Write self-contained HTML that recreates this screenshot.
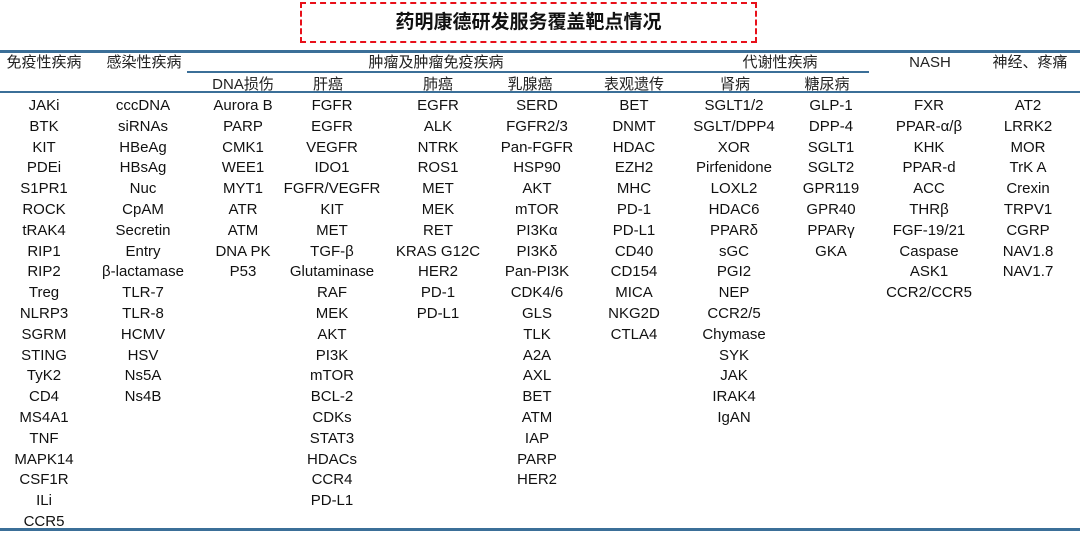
<!DOCTYPE html>
<html><head><meta charset="utf-8"><style>
body{margin:0;width:1080px;height:531px;background:#fff;position:relative;overflow:hidden;font-family:"Liberation Sans","Noto Sans CJK SC",sans-serif;color:#111;}
.t{position:absolute;left:300px;top:2px;width:453px;height:37px;border:2px dashed #e8101a;text-align:center;font-weight:bold;font-size:19px;line-height:37px;}
.l{position:absolute;background:#3b6f98;}
.h{position:absolute;font-size:15px;white-space:nowrap;transform:translateX(-50%);line-height:18px;color:#222;}
.c{position:absolute;top:96px;transform:translateX(-50%);text-align:center;font-size:15px;line-height:20.8px;white-space:nowrap;}
</style></head><body>
<div class="t">药明康德研发服务覆盖靶点情况</div>
<div class="l" style="left:0;top:50px;width:1080px;height:3px"></div>
<div class="l" style="left:187px;top:71px;width:682px;height:1.5px"></div>
<div class="l" style="left:0;top:91px;width:1080px;height:2px"></div>
<div class="l" style="left:0;top:528px;width:1080px;height:3px"></div>
<div class="h" style="left:44px;top:54px">免疫性疾病</div>
<div class="h" style="left:144px;top:54px">感染性疾病</div>
<div class="h" style="left:436px;top:54px">肿瘤及肿瘤免疫疾病</div>
<div class="h" style="left:780px;top:54px">代谢性疾病</div>
<div class="h" style="left:930px;top:54px">NASH</div>
<div class="h" style="left:1030px;top:54px">神经、疼痛</div>
<div class="h" style="left:243px;top:76px">DNA损伤</div>
<div class="h" style="left:328px;top:76px">肝癌</div>
<div class="h" style="left:438px;top:76px">肺癌</div>
<div class="h" style="left:530px;top:76px">乳腺癌</div>
<div class="h" style="left:634px;top:76px">表观遗传</div>
<div class="h" style="left:735px;top:76px">肾病</div>
<div class="h" style="left:827px;top:76px">糖尿病</div>
<div class="c" style="left:44px">JAKi<br>BTK<br>KIT<br>PDEi<br>S1PR1<br>ROCK<br>tRAK4<br>RIP1<br>RIP2<br>Treg<br>NLRP3<br>SGRM<br>STING<br>TyK2<br>CD4<br>MS4A1<br>TNF<br>MAPK14<br>CSF1R<br>ILi<br>CCR5</div>
<div class="c" style="left:143px">cccDNA<br>siRNAs<br>HBeAg<br>HBsAg<br>Nuc<br>CpAM<br>Secretin<br>Entry<br>β-lactamase<br>TLR-7<br>TLR-8<br>HCMV<br>HSV<br>Ns5A<br>Ns4B</div>
<div class="c" style="left:243px">Aurora B<br>PARP<br>CMK1<br>WEE1<br>MYT1<br>ATR<br>ATM<br>DNA PK<br>P53</div>
<div class="c" style="left:332px">FGFR<br>EGFR<br>VEGFR<br>IDO1<br>FGFR/VEGFR<br>KIT<br>MET<br>TGF-β<br>Glutaminase<br>RAF<br>MEK<br>AKT<br>PI3K<br>mTOR<br>BCL-2<br>CDKs<br>STAT3<br>HDACs<br>CCR4<br>PD-L1</div>
<div class="c" style="left:438px">EGFR<br>ALK<br>NTRK<br>ROS1<br>MET<br>MEK<br>RET<br>KRAS G12C<br>HER2<br>PD-1<br>PD-L1</div>
<div class="c" style="left:537px">SERD<br>FGFR2/3<br>Pan-FGFR<br>HSP90<br>AKT<br>mTOR<br>PI3Kα<br>PI3Kδ<br>Pan-PI3K<br>CDK4/6<br>GLS<br>TLK<br>A2A<br>AXL<br>BET<br>ATM<br>IAP<br>PARP<br>HER2</div>
<div class="c" style="left:634px">BET<br>DNMT<br>HDAC<br>EZH2<br>MHC<br>PD-1<br>PD-L1<br>CD40<br>CD154<br>MICA<br>NKG2D<br>CTLA4</div>
<div class="c" style="left:734px">SGLT1/2<br>SGLT/DPP4<br>XOR<br>Pirfenidone<br>LOXL2<br>HDAC6<br>PPARδ<br>sGC<br>PGI2<br>NEP<br>CCR2/5<br>Chymase<br>SYK<br>JAK<br>IRAK4<br>IgAN</div>
<div class="c" style="left:831px">GLP-1<br>DPP-4<br>SGLT1<br>SGLT2<br>GPR119<br>GPR40<br>PPARγ<br>GKA</div>
<div class="c" style="left:929px">FXR<br>PPAR-α/β<br>KHK<br>PPAR-d<br>ACC<br>THRβ<br>FGF-19/21<br>Caspase<br>ASK1<br>CCR2/CCR5</div>
<div class="c" style="left:1028px">AT2<br>LRRK2<br>MOR<br>TrK A<br>Crexin<br>TRPV1<br>CGRP<br>NAV1.8<br>NAV1.7</div>
</body></html>
